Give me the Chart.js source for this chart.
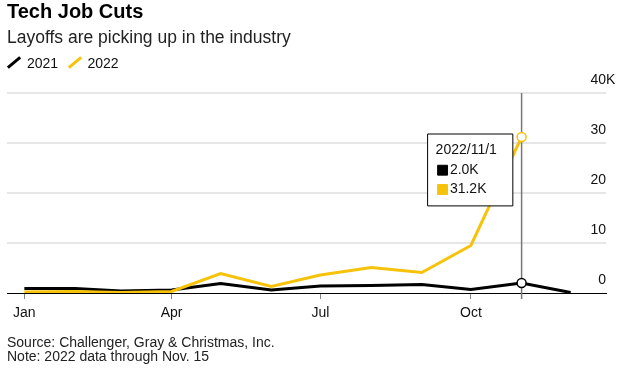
<!DOCTYPE html>
<html>
<head>
<meta charset="utf-8">
<script src="https://cdn.jsdelivr.net/npm/chart.js@4.4.1/dist/chart.umd.min.js"></script>
<style>
	html, body { margin: 0; padding: 0; background: #fff; }
	body { position: relative; width: 634px; height: 390px; overflow: hidden; font-family: "Liberation Sans", Arial, Helvetica, sans-serif; color: #111; }
	canvas { position: absolute; left: 0; top: 0; }
	.t { position: absolute; left: 7px; white-space: nowrap; }
	#title { top: 1px; font-size: 20px; line-height: 20px; font-weight: bold; color: #000; }
	#subtitle { top: 28.5px; font-size: 17.5px; line-height: 17.5px; color: #222; }
	.key { position: absolute; top: 56px; font-size: 14px; line-height: 14px; color: #111; }
	.slash { position: absolute; width: 16px; height: 3px; top: 61px; transform: rotate(-40deg); }
	#notes { top: 335px; font-size: 14px; line-height: 14px; color: #222; }
</style>
</head>
<body>
<canvas id="chartjs-canvas" width="634" height="390"></canvas>
<div class="t" id="title">Tech Job Cuts</div>
<div class="t" id="subtitle">Layoffs are picking up in the industry</div>
<span class="slash" style="left:6px;background:#000"></span>
<span class="key" style="left:27px">2021</span>
<span class="slash" style="left:67px;background:#f6c20a"></span>
<span class="key" style="left:87.5px">2022</span>
<div class="t" id="notes">Source: Challenger, Gray &amp; Christmas, Inc.<br>Note: 2022 data through Nov. 15</div>
<script>
const months = ['Jan', 'Feb', 'Mar', 'Apr', 'May', 'Jun', 'Jul', 'Aug', 'Sep', 'Oct', 'Nov', 'Dec'];
// job cuts, thousands
const cuts2021 = [0.9, 0.9, 0.4, 0.6, 1.9, 0.6, 1.4, 1.5, 1.7, 0.7, 2.0, 0.1];
const cuts2022 = [0.2, 0.3, 0.1, 0.3, 3.9, 1.3, 3.6, 5.1, 4.1, 9.5, 31.2];
const tickMonths = ['Jan', 'Apr', 'Jul', 'Oct'];
const yTicks = [0, 10, 20, 30, 40];
const hoverMonth = 'Nov';

const FONT = '"Liberation Sans", Arial, Helvetica, sans-serif';
const BLACK = '#000';
const YELLOW = '#f6c20a';

// days from Jan 1 to the first of a month, so spacing follows the calendar
const monthDay = m => (Date.UTC(2021, months.indexOf(m), 1) - Date.UTC(2021, 0, 1)) / 864e5;
const toPoints = values => values.map((v, i) => ({x: monthDay(months[i]), y: v}));
const hoverIndex = months.indexOf(hoverMonth);

Chart.Tooltip.positioners.besidePoint = items => {
	if (!items.length) return false;
	const x = Math.min(...items.map(i => i.element.x));
	const y = Math.min(...items.map(i => i.element.y));
	return {x: x - 94, y: y - 3, xAlign: 'left', yAlign: 'top'};
};

const hoverLine = {
	id: 'hoverLine',
	beforeDatasetsDraw: chart => {
		const {ctx, chartArea, scales} = chart;
		const x = scales.x.getPixelForValue(monthDay(hoverMonth));
		ctx.save();
		ctx.strokeStyle = '#777';
		ctx.lineWidth = 1.5;
		ctx.beginPath();
		ctx.moveTo(x, chartArea.top);
		ctx.lineTo(x, chartArea.bottom + 6);
		ctx.stroke();
		ctx.restore();
	}
};

// the top tick reads "40K": the K hangs past the right-aligned numbers
const unitLabel = {
	id: 'unitLabel',
	afterDraw: chart => {
		const {ctx, chartArea, scales} = chart;
		ctx.save();
		ctx.font = `14px ${FONT}`;
		ctx.fillStyle = '#111';
		ctx.textAlign = 'left';
		ctx.textBaseline = 'middle';
		ctx.fillText('K', chartArea.right, scales.y.getPixelForValue(yTicks[yTicks.length - 1]) - 13);
		ctx.restore();
	}
};

const data = {
	datasets: [{
		label: '2021',
		data: toPoints(cuts2021),
		borderColor: BLACK,
		backgroundColor: BLACK,
		pointHoverBorderColor: BLACK,
		order: 1
	}, {
		label: '2022',
		data: toPoints(cuts2022),
		borderColor: YELLOW,
		backgroundColor: YELLOW,
		pointHoverBorderColor: YELLOW,
		order: 0
	}]
};

const config = {
	type: 'line',
	data,
	plugins: [hoverLine, unitLabel],
	options: {
		responsive: false,
		animation: false,
		events: [],
		layout: {padding: {top: 93, left: 7, right: 28, bottom: 57}},
		elements: {
			line: {borderWidth: 3, tension: 0, borderJoinStyle: 'miter'},
			point: {radius: 0, hoverRadius: 4.5, hoverBorderWidth: 1.5, hoverBackgroundColor: '#fff'}
		},
		plugins: {
			legend: {display: false},
			title: {display: false},
			tooltip: {
				enabled: true,
				animation: false,
				position: 'besidePoint',
				backgroundColor: '#fff',
				borderColor: '#000',
				borderWidth: 1,
				cornerRadius: 0,
				caretSize: 0,
				caretPadding: 0,
				titleColor: '#111',
				bodyColor: '#111',
				titleFont: {family: FONT, size: 14, weight: 'normal'},
				bodyFont: {family: FONT, size: 14},
				titleMarginBottom: 3,
				bodySpacing: 2.5,
				padding: {top: 8, bottom: 8, left: 8, right: 16},
				usePointStyle: true,
				boxWidth: 14,
				boxHeight: 14,
				boxPadding: -1.7,
				itemSort: (a, b) => a.datasetIndex - b.datasetIndex,
				callbacks: {
					title: items => `2022/${items[0].dataIndex + 1}/1`,
					label: ctx => `${ctx.parsed.y.toFixed(1)}K`,
					labelPointStyle: () => ({pointStyle: 'rect', rotation: 0}),
					labelColor: ctx => ({borderColor: ctx.dataset.borderColor, backgroundColor: ctx.dataset.borderColor})
				}
			}
		},
		scales: {
			x: {
				type: 'linear',
				min: -10.6,
				max: 355.6,
				afterBuildTicks: scale => { scale.ticks = tickMonths.map(m => ({value: monthDay(m)})); },
				afterFit: scale => { scale.height = 40; },
				ticks: {
					autoSkip: false,
					maxRotation: 0,
					padding: 6,
					color: '#111',
					font: {family: FONT, size: 14},
					callback: value => months.find(m => monthDay(m) === value) || ''
				},
				grid: {drawOnChartArea: false, drawTicks: true, tickLength: 6, color: '#888', lineWidth: 1},
				border: {display: true, color: '#000', width: 1}
			},
			y: {
				position: 'right',
				min: 0,
				max: 40,
				afterBuildTicks: scale => { scale.ticks = yTicks.map(v => ({value: v})); },
				afterFit: scale => { scale.width = 0; },
				ticks: {
					mirror: true,
					padding: 0,
					crossAlign: 'near',
					labelOffset: -13,
					color: '#111',
					font: {family: FONT, size: 14}
				},
				grid: {
					drawTicks: false,
					lineWidth: 2,
					color: ctx => ctx.tick && ctx.tick.value === 0 ? 'rgba(0,0,0,0)' : '#e6e6e6'
				},
				border: {display: false}
			}
		}
	}
};

const chart = new Chart(document.getElementById('chartjs-canvas'), config);
const active = [{datasetIndex: 0, index: hoverIndex}, {datasetIndex: 1, index: hoverIndex}];
chart.setActiveElements(active);
chart.tooltip.setActiveElements(active, {x: 0, y: 0});
chart.update();
</script>
</body>
</html>
